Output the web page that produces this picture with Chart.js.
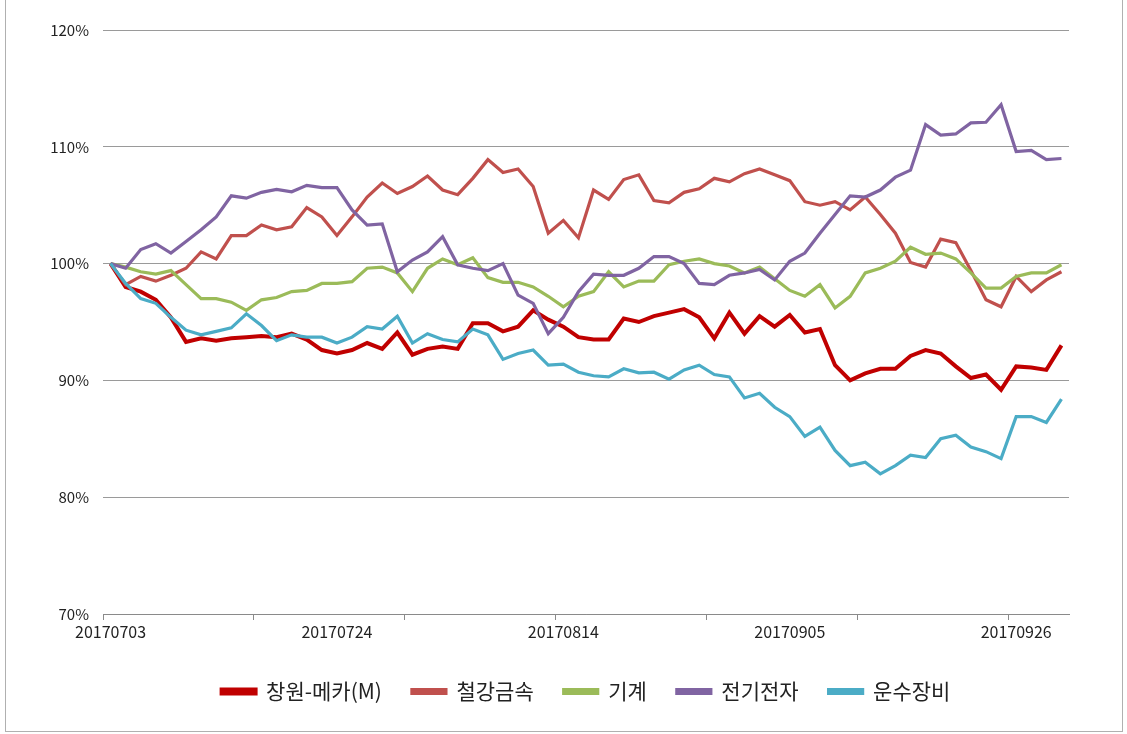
<!DOCTYPE html>
<html>
<head>
<meta charset="utf-8">
<script src="https://cdn.jsdelivr.net/npm/chart.js@4/dist/chart.umd.min.js"></script>
<style>
    body { margin: 0; background: #fff; }
    #wrap { position: relative; width: 1127px; height: 734px; }
    #frame { position: absolute; left: 5px; top: 0; width: 1116px; height: 731px;
             border-left: 1px solid #b0b0b0; border-right: 1px solid #b0b0b0; border-bottom: 1px solid #b0b0b0; }
    canvas { position: absolute; left: 0; top: 0; }
</style>
</head>
<body>
<div id="wrap">
    <div id="frame"></div>
    <canvas id="chart" width="1127" height="734"></canvas>
</div>
<script>
let dates = [
    '20170703','20170704','20170705','20170706','20170707','20170710','20170711','20170712','20170713','20170714',
    '20170717','20170718','20170719','20170720','20170721','20170724','20170725','20170726','20170727','20170728',
    '20170731','20170801','20170802','20170803','20170804','20170807','20170808','20170809','20170810','20170811',
    '20170814','20170816','20170817','20170818','20170821','20170822','20170823','20170824','20170825','20170828',
    '20170829','20170830','20170831','20170901','20170904','20170905','20170906','20170907','20170908','20170911',
    '20170912','20170913','20170914','20170915','20170918','20170919','20170920','20170921','20170922','20170925',
    '20170926','20170927','20170928','20170929'
];

let series_names = ['창원-메카(M)', '철강금속', '기계', '전기전자', '운수장비'];

let changwon = [
    100, 98.0, 97.6, 96.9, 95.4, 93.3, 93.6, 93.4, 93.6, 93.7,
    93.8, 93.7, 94.0, 93.5, 92.6, 92.3, 92.6, 93.2, 92.7, 94.1,
    92.2, 92.7, 92.9, 92.7, 94.9, 94.9, 94.2, 94.6, 96.0, 95.2,
    94.6, 93.7, 93.5, 93.5, 95.3, 95.0, 95.5, 95.8, 96.1, 95.4,
    93.6, 95.8, 94.0, 95.5, 94.6, 95.6, 94.1, 94.4, 91.3, 90.0,
    90.6, 91.0, 91.0, 92.1, 92.6, 92.3, 91.2, 90.2, 90.5, 89.2,
    91.2, 91.1, 90.9, 93.0
];

let steel = [
    100, 98.2, 98.9, 98.5, 99.0, 99.6, 101.0, 100.4, 102.4, 102.4,
    103.3, 102.9, 103.15, 104.8, 104.0, 102.4, 104.0, 105.7, 106.9, 106.0,
    106.6, 107.5, 106.3, 105.9, 107.3, 108.9, 107.8, 108.1, 106.6, 102.6,
    103.7, 102.2, 106.3, 105.5, 107.2, 107.6, 105.4, 105.2, 106.1, 106.4,
    107.3, 107.0, 107.7, 108.1, 107.6, 107.1, 105.3, 105.0, 105.3, 104.6,
    105.7, 104.2, 102.6, 100.1, 99.7, 102.1, 101.8, 99.4, 96.9, 96.3,
    98.9, 97.6, 98.6, 99.3
];

let machine = [
    100, 99.7, 99.3, 99.1, 99.4, 98.2, 97.0, 97.0, 96.7, 96.0,
    96.9, 97.1, 97.6, 97.7, 98.3, 98.3, 98.45, 99.6, 99.7, 99.2,
    97.6, 99.6, 100.4, 99.9, 100.5, 98.8, 98.4, 98.4, 98.0, 97.2,
    96.3, 97.2, 97.6, 99.3, 98.0, 98.5, 98.5, 99.9, 100.2, 100.4,
    100.0, 99.8, 99.2, 99.7, 98.7, 97.7, 97.2, 98.2, 96.2, 97.2,
    99.2, 99.6, 100.2, 101.4, 100.8, 100.9, 100.4, 99.2, 97.9, 97.9,
    98.9, 99.2, 99.2, 99.9
];

let electronics = [
    100, 99.6, 101.2, 101.7, 100.9, 101.9, 102.9, 104.0, 105.8, 105.6,
    106.1, 106.35, 106.15, 106.7, 106.5, 106.5, 104.6, 103.3, 103.4, 99.3,
    100.3, 101.0, 102.3, 99.9, 99.6, 99.4, 100.0, 97.3, 96.6, 94.0,
    95.4, 97.6, 99.1, 99.0, 99.0, 99.6, 100.6, 100.6, 100.0, 98.3,
    98.2, 99.0, 99.2, 99.5, 98.6, 100.2, 100.9, 102.6, 104.2, 105.8,
    105.7, 106.3, 107.4, 108.0, 111.9, 111.0, 111.1, 112.05, 112.1, 113.6,
    109.6, 109.7, 108.9, 109.0
];

let transport = [
    100, 98.3, 97.0, 96.6, 95.4, 94.3, 93.9, 94.2, 94.5, 95.7,
    94.7, 93.4, 93.9, 93.7, 93.7, 93.2, 93.7, 94.6, 94.4, 95.5,
    93.2, 94.0, 93.5, 93.3, 94.4, 93.9, 91.8, 92.3, 92.6, 91.3,
    91.4, 90.7, 90.4, 90.3, 91.0, 90.65, 90.7, 90.1, 90.9, 91.3,
    90.5, 90.3, 88.5, 88.9, 87.7, 86.9, 85.2, 86.0, 84.0, 82.7,
    83.0, 82.0, 82.7, 83.6, 83.4, 85.0, 85.3, 84.3, 83.9, 83.3,
    86.9, 86.9, 86.4, 88.4
];

let colors = ['#c00000', '#c0504d', '#9bbb59', '#8064a2', '#4bacc6'];
let widths = [4, 3.2, 3.2, 3.2, 3.2];

let font_family = '"Noto Sans CJK KR", "Malgun Gothic", sans-serif';

function make_dataset(i, values) {
    return {
        label: series_names[i],
        data: values,
        borderColor: colors[i],
        backgroundColor: colors[i],
        borderWidth: widths[i],
        pointRadius: 0,
        tension: 0,
        order: -i
    };
}

// excel centres the legend under the plot area, not the whole canvas
let legend_under_plot = {
    id: 'legend_under_plot',
    afterLayout: function (chart) {
        chart.legend.left = chart.chartArea.left;
    }
};

let chart = new Chart(document.getElementById('chart'), {
    type: 'line',
    data: {
        labels: dates,
        datasets: [
            make_dataset(0, changwon),
            make_dataset(1, steel),
            make_dataset(2, machine),
            make_dataset(3, electronics),
            make_dataset(4, transport)
        ]
    },
    plugins: [legend_under_plot],
    options: {
        responsive: false,
        animation: false,
        layout: { padding: { left: 0, right: 58, top: 30, bottom: 22 } },
        plugins: {
            tooltip: { enabled: false },
            legend: {
                position: 'bottom',
                labels: {
                    boxWidth: 34,
                    boxHeight: 4,
                    padding: 30,
                    color: '#222',
                    font: { family: font_family, size: 21 },
                    sort: (a, b) => a.datasetIndex - b.datasetIndex
                }
            }
        },
        scales: {
            x: {
                offset: true,
                grid: {
                    offset: true,
                    drawOnChartArea: false,
                    drawTicks: true,
                    tickLength: 6,
                    color: ctx => (ctx.index % 10 === 0 ? '#8a8a8a' : 'rgba(0,0,0,0)')
                },
                border: { display: true, color: '#8a8a8a', width: 1 },
                ticks: {
                    autoSkip: false,
                    maxRotation: 0,
                    minRotation: 0,
                    padding: 2,
                    color: '#222',
                    font: { family: font_family, size: 16 },
                    callback: function (value, index) {
                        return index % 15 === 0 ? dates[index] : '';
                    }
                },
                afterFit: function (scale) { scale.height = 37; }
            },
            y: {
                min: 70,
                max: 120,
                grid: { color: '#9a9a9a', lineWidth: 1, drawTicks: false },
                border: { display: false },
                ticks: {
                    stepSize: 10,
                    padding: 14,
                    color: '#222',
                    font: { family: font_family, size: 15 },
                    callback: v => v + '%'
                },
                afterFit: function (scale) { scale.width = 103; }
            }
        }
    }
});
</script>
</body>
</html>
